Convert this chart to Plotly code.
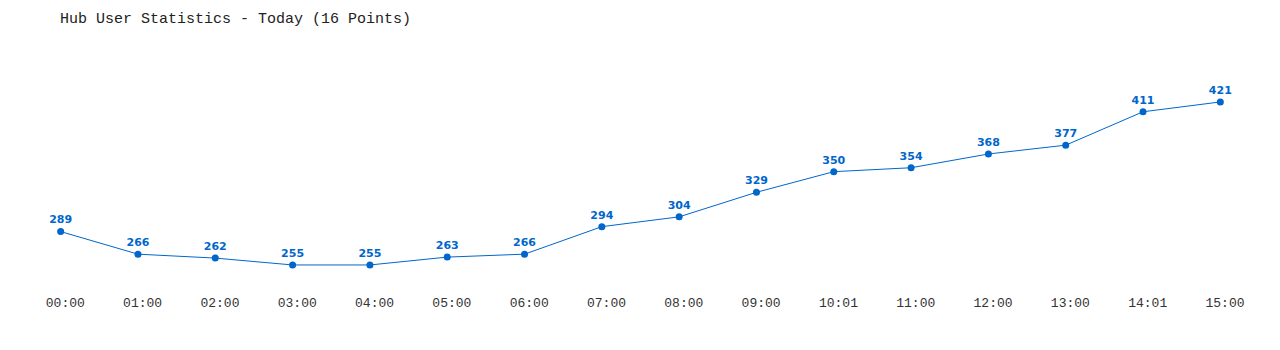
import plotly.graph_objects as go

times = ["00:00", "01:00", "02:00", "03:00", "04:00", "05:00", "06:00", "07:00",
         "08:00", "09:00", "10:01", "11:00", "12:00", "13:00", "14:01", "15:00"]
users = [289, 266, 262, 255, 255, 263, 266, 294, 304, 329, 350, 354, 368, 377, 411, 421]

xs = list(range(len(times)))
label_offset = 0.06  # tick labels sit slightly right of the points in the reference

fig = go.Figure(go.Scatter(
    x=xs, y=users, mode="lines+markers+text",
    line=dict(color="#0066CC", width=1),
    marker=dict(color="#0066CC", size=7),
    text=[str(v) for v in users], textposition="top center",
    textfont=dict(family="DejaVu Sans", size=11, color="#0066CC", weight="bold"),
    cliponaxis=False, hoverinfo="skip",
))

fig.update_layout(
    width=1280, height=350,
    margin=dict(l=22, r=21, t=50, b=60),
    paper_bgcolor="white", plot_bgcolor="white",
    showlegend=False,
    title=dict(text="Hub User Statistics - Today (16 Points)", x=60/1280, xanchor="left",
               y=1-18/350, yanchor="middle",
               font=dict(family="Liberation Mono", size=15, color="#222")),
    xaxis=dict(range=[-0.5, 15.5], tickmode="array",
               tickvals=[x + label_offset for x in xs], ticktext=times,
               showgrid=False, zeroline=False, showline=False, ticks="",
               ticklabelstandoff=3,
               tickfont=dict(family="Liberation Mono", size=13, color="#333")),
    yaxis=dict(range=[229.5, 473.9], visible=False),
)

fig.write_html("out.html")
